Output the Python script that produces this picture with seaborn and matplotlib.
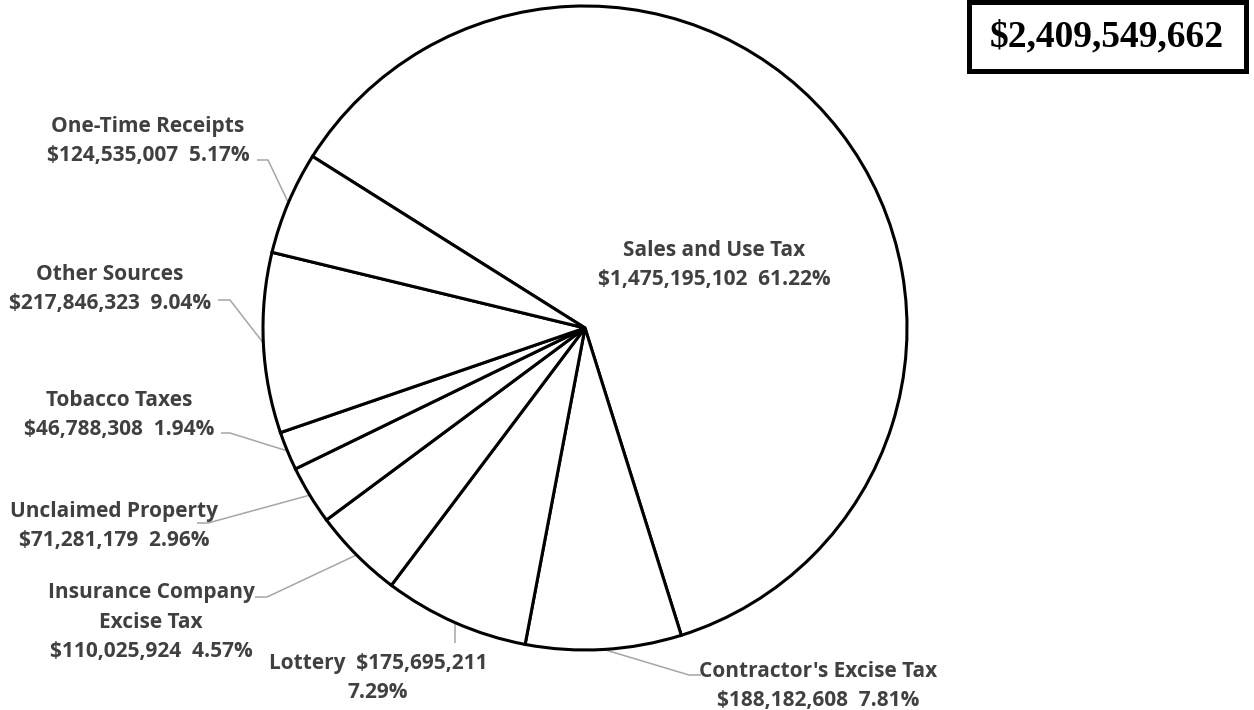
import numpy as np
import matplotlib
matplotlib.use("Agg")
import matplotlib.pyplot as plt
from matplotlib.patches import Rectangle
import seaborn as sns

# Revenue sources (drawn clockwise, starting with Sales and Use Tax)
categories = ["Sales and Use Tax", "Contractor's Excise Tax", "Lottery",
              "Insurance Company Excise Tax", "Unclaimed Property",
              "Tobacco Taxes", "Other Sources", "One-Time Receipts"]
amounts = [1475195102, 188182608, 175695211, 110025924,
           71281179, 46788308, 217846323, 124535007]
display_names = ["Sales and Use Tax", "Contractor's Excise Tax", "Lottery",
                 "Insurance Company\nExcise Tax", "Unclaimed Property",
                 "Tobacco Taxes", "Other Sources", "One-Time Receipts"]
name_sep = ["\n", "\n", "  ", "\n", "\n", "\n", "\n", "\n"]
value_sep = ["  ", "  ", "\n", "  ", "  ", "  ", "  ", "  "]

W, H = 1254, 710
sns.set_theme(style="white")
plt.rcParams["font.family"] = ["Open Sans", "DejaVu Sans"]

fig = plt.figure(figsize=(W / 100, H / 100), dpi=100)
ax = fig.add_axes([0, 0, 1, 1])


def px(x, y):
    """Pixel position (origin top-left) -> data coordinates."""
    return x, H - y


center = px(585, 328)
radius = 322
wedges, _ = ax.pie(amounts, startangle=147.8, counterclock=False,
                   center=center, radius=radius,
                   colors=["white"] * len(amounts),
                   wedgeprops=dict(edgecolor="black", linewidth=2.2))
ax.set_xlim(0, W)
ax.set_ylim(0, H)
ax.set_aspect("equal")
ax.axis("off")

total = sum(amounts)
text_color = "#404040"
leader_color = "#A6A6A6"
line_pitch = 29.5  # pixels between label lines

# label block centres (pixels)
label_pos = [(714, 265), (818, 686), (378, 678), (151, 622),
             (114, 526), (119, 415), (110, 289), (148, 141)]
# leader segments from label to wedge edge (pixels); None = no leader
leaders = [None,
           [(701, 675), (689, 675)],
           [("edge", 643)],
           [(255, 597), (267, 597)],
           [(197, 523), (208, 523)],
           [(221, 433), (230, 433)],
           [(218, 300), (230, 300)],
           [(257, 160), (268, 160)]]

for i, w in enumerate(wedges):
    pct = amounts[i] / total * 100
    text = f"{display_names[i]}{name_sep[i]}${amounts[i]:,}{value_sep[i]}{pct:.2f}%"
    lines = text.split("\n")
    cx, cy = label_pos[i]
    for k, line in enumerate(lines):
        ly = cy + (k - (len(lines) - 1) / 2) * line_pitch
        ax.text(*px(cx, ly), line, ha="center", va="center",
                fontsize=15, fontweight="bold", color=text_color)

    if leaders[i] is None:
        continue
    mid = np.deg2rad((w.theta1 + w.theta2) / 2)
    ex = center[0] + radius * np.cos(mid)
    ey = center[1] + radius * np.sin(mid)
    pts = []
    for (lx, ly) in leaders[i]:
        if lx == "edge":
            pts.append((ex, H - ly))
        else:
            pts.append(px(lx, ly))
    pts.append((ex, ey))
    xs, ys = zip(*pts)
    ax.plot(xs, ys, color=leader_color, lw=1.1, solid_capstyle="butt",
            zorder=0.5)

# total revenue box
x0, y0 = px(969, 71)
ax.add_patch(Rectangle((x0, y0), 1246 - 969, 71 - 2, fill=False,
                       edgecolor="black", linewidth=3.6, clip_on=False))
ax.text(*px(1107, 37), f"${total:,}", ha="center", va="center",
        fontsize=27, fontweight="bold", family=["Liberation Serif"],
        color="black")

fig.savefig("out.png", dpi=100, facecolor="white")
